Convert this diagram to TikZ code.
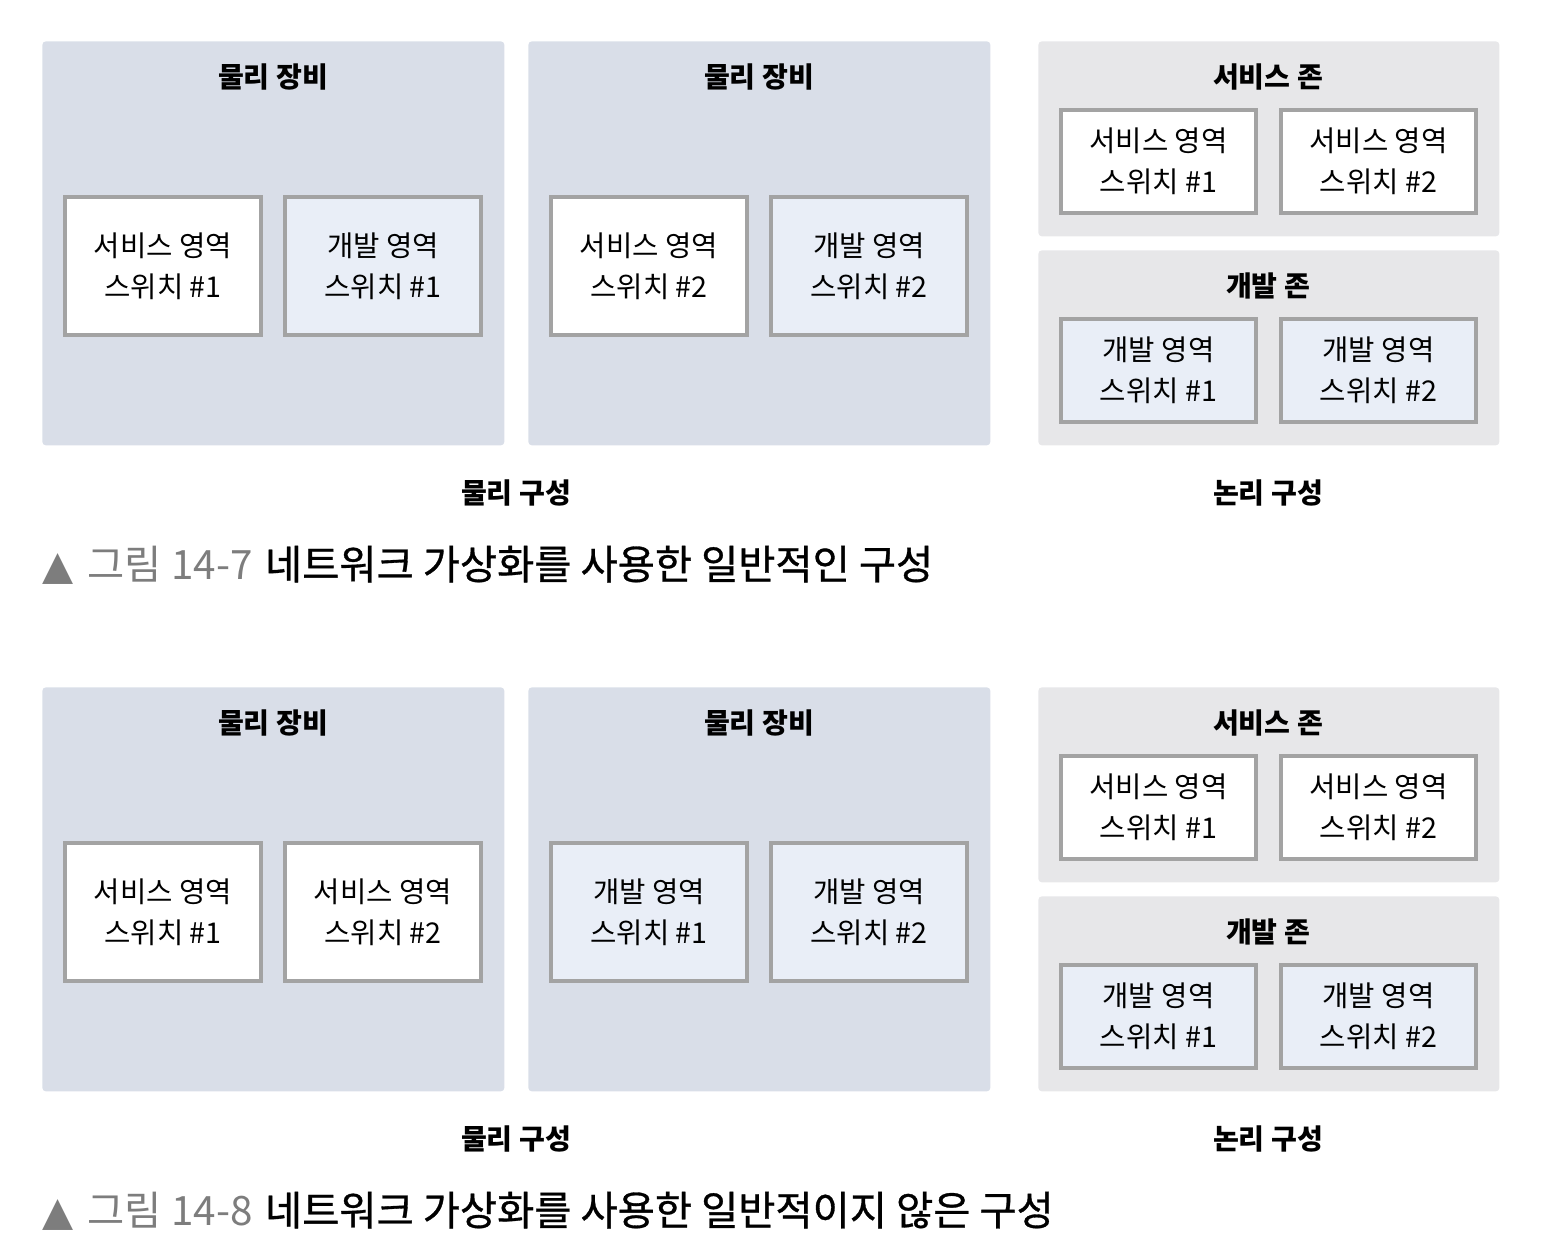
\documentclass[tikz,border=0pt]{standalone}
\usepackage{fontspec}
\setmainfont{Noto Sans CJK KR}
\newfontfamily\symf{DejaVu Sans}
\definecolor{physc}{RGB}{217,222,232}
\definecolor{zonec}{RGB}{231,231,233}
\definecolor{devc}{RGB}{233,238,247}
\definecolor{bordc}{RGB}{163,163,163}
\definecolor{capgray}{RGB}{125,125,125}
\newcommand\pxl{0.02cm}
\newcommand\capmain[1]{{\addfontfeature{FakeBold=0.8}#1}}
\tikzset{
  physbox/.style={fill=physc, rounded corners=2pt, minimum width=462*\pxl, minimum height=404*\pxl, anchor=north west, inner sep=0pt},
  zonebox/.style={fill=zonec, rounded corners=2pt, minimum width=461*\pxl, minimum height=195*\pxl, anchor=north west, inner sep=0pt},
  sw/.style={draw=bordc, line width=1.8pt, minimum width=196*\pxl, minimum height=138*\pxl, align=center, font=\fontsize{16.3}{23.5}\selectfont, inner sep=0pt},
  zsw/.style={sw, minimum width=195*\pxl, minimum height=103*\pxl},
  svc/.style={fill=white},
  devsw/.style={fill=devc},
  ttl/.style={font=\bfseries\fontsize{16}{20}\selectfont, inner sep=0pt},
  captxt/.style={anchor=west, font=\fontsize{23}{26}\selectfont, inner sep=0pt}
}
\begin{document}
\begin{tikzpicture}[x=0.02cm,y=-0.02cm]
\useasboundingbox (0,0) rectangle (1544,1250);
% ---------- Figure 14-7 ----------
\node[physbox] (pa1) at (42,41) {};
\node[physbox] (pb1) at (528,41) {};
\node[zonebox] (zs1) at (1038,41) {};
\node[zonebox] (zd1) at (1038,250) {};
\node[ttl] (tpa1) at (273,77) {물리 장비};
\node[ttl] (tpb1) at (759,77) {물리 장비};
\node[ttl] (tzs1) at (1268,77) {서비스 존};
\node[ttl] (tzd1) at (1268,286) {개발 존};
\node[sw,svc] (a1) at (163,266) {서비스 영역\\스위치 \#1};
\node[sw,devsw] (a2) at (383,266) {개발 영역\\스위치 \#1};
\node[sw,svc] (a3) at (649,266) {서비스 영역\\스위치 \#2};
\node[sw,devsw] (a4) at (869,266) {개발 영역\\스위치 \#2};
\node[zsw,svc] (a5) at (1158.5,161.5) {서비스 영역\\스위치 \#1};
\node[zsw,svc] (a6) at (1378.5,161.5) {서비스 영역\\스위치 \#2};
\node[zsw,devsw] (a7) at (1158.5,370.5) {개발 영역\\스위치 \#1};
\node[zsw,devsw] (a8) at (1378.5,370.5) {개발 영역\\스위치 \#2};
\node[ttl] (lp1) at (516,493) {물리 구성};
\node[ttl] (ll1) at (1268,493) {논리 구성};
\node[captxt] (cap1) at (42,565) {{\symf\color{capgray}▲}\hspace{3pt} {\color{capgray}그림 14-7}\hspace{2pt} \capmain{네트워크 가상화를 사용한 일반적인 구성}};
% ---------- Figure 14-8 ----------
\begin{scope}[shift={(0,646)}]
\node[physbox] (pa2) at (42,41) {};
\node[physbox] (pb2) at (528,41) {};
\node[zonebox] (zs2) at (1038,41) {};
\node[zonebox] (zd2) at (1038,250) {};
\node[ttl] (tpa2) at (273,77) {물리 장비};
\node[ttl] (tpb2) at (759,77) {물리 장비};
\node[ttl] (tzs2) at (1268,77) {서비스 존};
\node[ttl] (tzd2) at (1268,286) {개발 존};
\node[sw,svc] (b1) at (163,266) {서비스 영역\\스위치 \#1};
\node[sw,svc] (b2) at (383,266) {서비스 영역\\스위치 \#2};
\node[sw,devsw] (b3) at (649,266) {개발 영역\\스위치 \#1};
\node[sw,devsw] (b4) at (869,266) {개발 영역\\스위치 \#2};
\node[zsw,svc] (b5) at (1158.5,161.5) {서비스 영역\\스위치 \#1};
\node[zsw,svc] (b6) at (1378.5,161.5) {서비스 영역\\스위치 \#2};
\node[zsw,devsw] (b7) at (1158.5,370.5) {개발 영역\\스위치 \#1};
\node[zsw,devsw] (b8) at (1378.5,370.5) {개발 영역\\스위치 \#2};
\node[ttl] (lp2) at (516,493) {물리 구성};
\node[ttl] (ll2) at (1268,493) {논리 구성};
\node[captxt] (cap2) at (42,565) {{\symf\color{capgray}▲}\hspace{3pt} {\color{capgray}그림 14-8}\hspace{2pt} \capmain{네트워크 가상화를 사용한 일반적이지 않은 구성}};
\end{scope}
\end{tikzpicture}
\end{document}
